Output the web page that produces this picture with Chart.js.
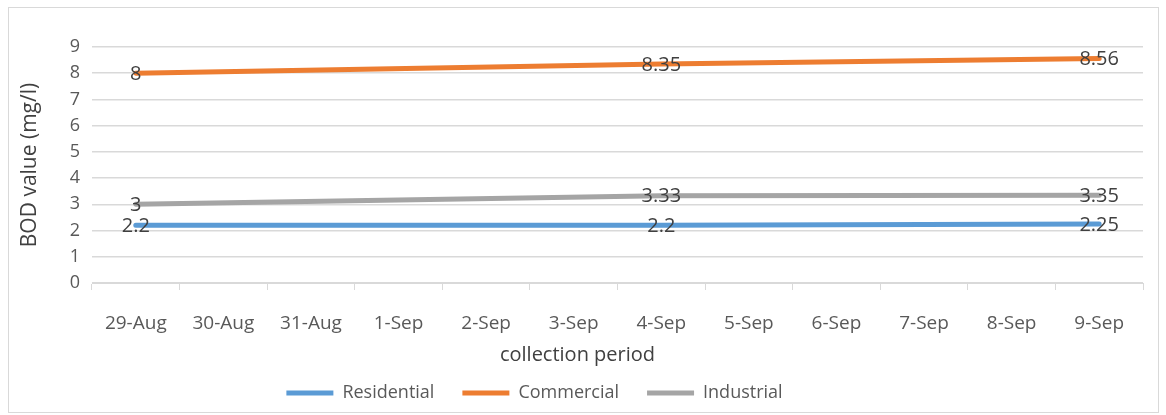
<!DOCTYPE html>
<html>
<head>
<meta charset="utf-8">
<script src="https://cdn.jsdelivr.net/npm/chart.js@4"></script>
<style>
  html, body { margin: 0; padding: 0; background: #fff; }
  #wrap { position: relative; width: 1166px; height: 415px; }
  #frame { position: absolute; left: 8px; top: 7px; width: 1151px; height: 406px; border: 1px solid #d9d9d9; box-sizing: border-box; }
  canvas { position: absolute; left: 0; top: 0; }
</style>
</head>
<body>
<div id="wrap">
  <div id="frame"></div>
  <canvas id="bodChart" width="1166" height="415"></canvas>
</div>
<script>
// collection dates (x categories)
const dates = ["29-Aug", "30-Aug", "31-Aug", "1-Sep", "2-Sep", "3-Sep", "4-Sep", "5-Sep", "6-Sep", "7-Sep", "8-Sep", "9-Sep"];
// BOD readings, only taken on 29-Aug, 4-Sep and 9-Sep
const residential = [2.2, null, null, null, null, null, 2.2, null, null, null, null, 2.25];
const commercial = [8, null, null, null, null, null, 8.35, null, null, null, null, 8.56];
const industrial = [3, null, null, null, null, null, 3.33, null, null, null, null, 3.35];
const yTicks = [0, 1, 2, 3, 4, 5, 6, 7, 8, 9];

const fontFamily = "'Open Sans', sans-serif";
const textColor = "#595959";
const gridColor = "#d9d9d9";
const legendShift = -43; // legend sits a bit left of centre in the original

// draws the value on each point (no datalabels plugin available)
const valueLabels = {
  id: "valueLabels",
  afterDatasetsDraw(chart) {
    const ctx = chart.ctx;
    ctx.save();
    ctx.font = "20px " + fontFamily;
    ctx.fillStyle = "#404040";
    ctx.textAlign = "center";
    ctx.textBaseline = "middle";
    chart.data.datasets.forEach((ds, i) => {
      const meta = chart.getDatasetMeta(i);
      meta.data.forEach((pt, j) => {
        if (ds.data[j] === null) return;
        ctx.fillText(String(ds.data[j]), pt.x, pt.y + 1);
      });
    });
    ctx.restore();
  }
};

// move the legend box sideways after layout
const legendNudge = {
  id: "legendNudge",
  afterLayout(chart) {
    chart.legend.left += legendShift;
    chart.legend.right += legendShift;
  }
};

function lineSet(label, data, color) {
  return {
    label: label,
    data: data,
    borderColor: color,
    backgroundColor: color,
    borderWidth: 5,
    borderCapStyle: "round",
    pointRadius: 0,
    spanGaps: true
  };
}

const ctx = document.getElementById("bodChart").getContext("2d");
const bodChart = new Chart(ctx, {
  type: "line",
  data: {
    labels: dates,
    datasets: [
      lineSet("Residential", residential, "#5b9bd5"),
      lineSet("Commercial", commercial, "#ed7d31"),
      lineSet("Industrial", industrial, "#a5a5a5")
    ]
  },
  options: {
    responsive: false,
    animation: false,
    layout: { padding: { left: 12, right: 23, top: 47, bottom: 3 } },
    plugins: {
      tooltip: { enabled: false },
      title: {
        display: true,
        text: "collection period",
        position: "bottom",
        weight: 500,
        color: "#404040",
        font: { family: fontFamily, size: 20, weight: "normal" },
        padding: { top: 4, bottom: -11 }
      },
      legend: {
        position: "bottom",
        labels: {
          usePointStyle: true,
          pointStyle: "line",
          pointStyleWidth: 47,
          color: textColor,
          font: { family: fontFamily, size: 18 },
          padding: 28
        }
      }
    },
    scales: {
      x: {
        offset: true,
        afterFit(scale) { scale.height = 56; },
        grid: { drawOnChartArea: false, tickLength: 7, color: gridColor, offset: true },
        border: { color: gridColor },
        ticks: { color: textColor, font: { family: fontFamily, size: 19 }, padding: 22, maxRotation: 0, autoSkip: false }
      },
      y: {
        min: yTicks[0],
        max: yTicks[yTicks.length - 1],
        afterFit(scale) { scale.width = 80; },
        afterBuildTicks(scale) { scale.ticks = yTicks.map(v => ({ value: v })); },
        grid: { color: gridColor, lineWidth: 1.5, drawTicks: false },
        border: { display: false },
        ticks: { color: textColor, font: { family: fontFamily, size: 18 }, padding: 12, autoSkip: false },
        title: {
          display: true,
          text: "BOD value (mg/l)",
          color: "#404040",
          font: { family: fontFamily, size: 21 },
          padding: { top: 5, bottom: 0 }
        }
      }
    }
  },
  plugins: [valueLabels, legendNudge]
});
</script>
</body>
</html>
